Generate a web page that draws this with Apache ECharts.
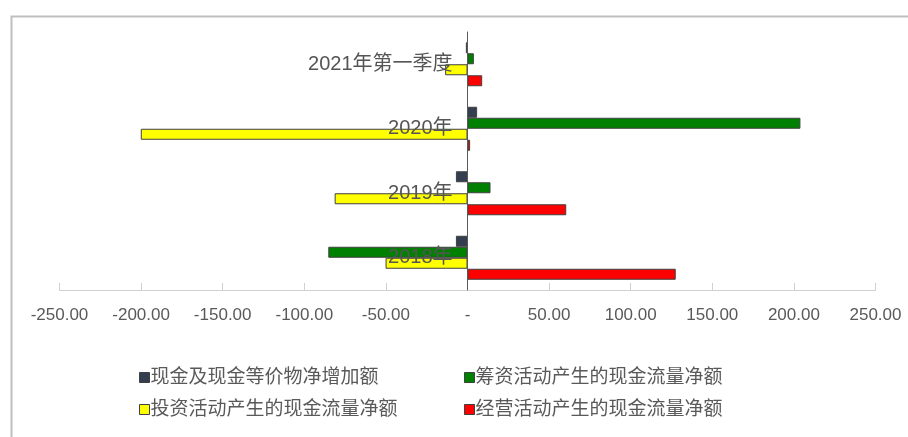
<!DOCTYPE html>
<html>
<head>
<meta charset="utf-8">
<script src="https://cdn.jsdelivr.net/npm/echarts@6/dist/echarts.min.js"></script>
<style>
html,body{margin:0;padding:0;background:#fff;}
#c{width:908px;height:437px;}
</style>
</head>
<body>
<div id="c"></div>
<script>
const categories = ['2018年', '2019年', '2020年', '2021年第一季度'];
const seriesNames = ['现金及现金等价物净增加额', '筹资活动产生的现金流量净额', '投资活动产生的现金流量净额', '经营活动产生的现金流量净额'];
const cashNet = [-7.1, -7.1, 5.9, -1.0];
const financing = [-85.3, 14.1, 204.0, 3.9];
const investing = [-50.2, -81.4, -200.2, -13.7];
const operating = [127.6, 60.5, 1.6, 9.0];
const xTicks = [-250, -200, -150, -100, -50, 0, 50, 100, 150, 200, 250];

const colors = ['#333f50', '#008000', '#ffff00', '#ff0000'];
const values = [cashNet, financing, investing, operating];
const FONT = '"Liberation Sans", "Noto Sans CJK SC", sans-serif';

const gridLeft = 59.5, gridRight = 32.5;
const plotW = 908 - gridLeft - gridRight;
const xMin = xTicks[0], xMax = xTicks[xTicks.length - 1];
const zeroOffset = (0 - xMin) / (xMax - xMin) * plotW;

const legendBase = {
  orient: 'vertical', top: 363, itemGap: 13,
  itemWidth: 10, itemHeight: 10, itemStyle: {borderWidth: 1, borderColor: '#404040'},
  textStyle: {fontFamily: FONT, fontSize: 19, color: '#595959', padding: [0, 0, 0, -4]},
  icon: 'rect'
};

const chart = echarts.init(document.getElementById('c'), null, {renderer: 'canvas'});
chart.setOption({
  animation: false,
  backgroundColor: '#ffffff',
  graphic: [{
    type: 'rect', left: 9, top: 14, silent: true, z: -1,
    shape: {x: 0, y: 0, width: 1000, height: 1000},
    style: {fill: 'none', stroke: '#bfbfbf', lineWidth: 2}
  }],
  grid: {left: gridLeft, right: gridRight, top: 32, bottom: 147, containLabel: false, outerBoundsMode: 'none'},
  legend: [
    Object.assign({}, legendBase, {data: [seriesNames[0], seriesNames[2]], left: 134}),
    Object.assign({}, legendBase, {data: [seriesNames[1], seriesNames[3]], left: 459})
  ],
  xAxis: {
    type: 'value', min: xMin, max: xMax, interval: 50,
    position: 'bottom',
    axisLine: {show: true, onZero: false, lineStyle: {color: '#d0d0d0', width: 1}},
    axisTick: {show: true, inside: true, length: 7, lineStyle: {color: '#d0d0d0'}},
    splitLine: {show: false},
    axisLabel: {
      margin: 17, fontFamily: FONT, fontSize: 17, color: '#595959',
      formatter: v => v === 0 ? '-' : v.toFixed(2)
    }
  },
  yAxis: {
    type: 'category', data: categories, position: 'left', offset: -zeroOffset, z: 5,
    axisLine: {show: true, onZero: false, lineStyle: {color: '#595959', width: 1}},
    axisTick: {show: false},
    axisLabel: {margin: 15, fontFamily: FONT, fontSize: 20, color: '#555555', padding: [6, 0, 0, 0]}
  },
  series: seriesNames.map((n, i) => ({
    name: n, type: 'bar', data: values[i], z: 2,
    barWidth: 11, barGap: '0%',
    itemStyle: {color: colors[i], borderColor: '#404040', borderWidth: 1}
  }))
});
</script>
</body>
</html>
